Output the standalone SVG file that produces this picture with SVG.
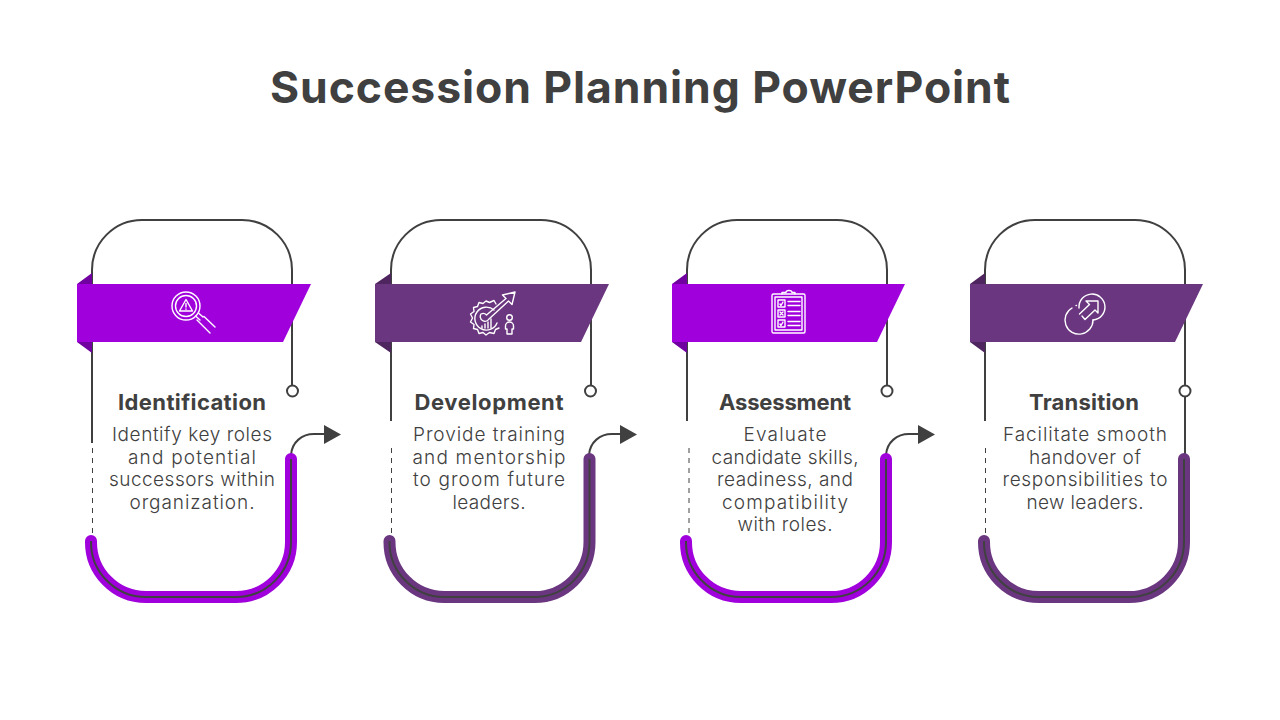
<svg xmlns="http://www.w3.org/2000/svg" xmlns:xlink="http://www.w3.org/1999/xlink" width="1280" height="720" viewBox="0 0 1280 720">
<style>
text{font-family:Inter,"Liberation Sans",sans-serif;fill:#404040;text-anchor:middle}
.title{font-size:44.500px;font-weight:700}
.head{font-size:22px;font-weight:700}
.body{font-size:19px;font-weight:300}
.ln{fill:none;stroke:#404040;stroke-width:2}
.dash{fill:none;stroke:#404040;stroke-width:1;stroke-dasharray:5 5}
.thick{fill:none;stroke-width:12;stroke-linecap:round}
.ic{fill:none;stroke:#fff;stroke-width:1.400;stroke-linecap:round;stroke-linejoin:round}
.v{fill:#A000DC}.vd{fill:#7000A0}.vs{stroke:#A000DC}
.p{fill:#6A367F}.pd{fill:#4F2560}.ps{stroke:#6A367F}
.dot{fill:#fff;stroke:#404040;stroke-width:2}
</style>
<defs>
<path id="top" d="M92 284V270A50 50 0 0 1 142 220H242A50 50 0 0 1 292 270V385"/>
<path id="u" d="M91 541A55 55 0 0 0 146 597H236A55 55 0 0 0 291 542V459"/>
</defs>
<text class="title" x="640" y="103" textLength="740" lengthAdjust="spacing">Succession Planning PowerPoint</text>

<g id="connectors">
<g id="link1"><path class="ln" d="M291 455C292 442 302 434 314 434H326"/><path fill="#404040" d="M324 425L341 434.500L324 444Z"/></g>
<g id="link2"><path class="ln" d="M589 455C590 442 600 434 612 434H622"/><path fill="#404040" d="M620 425L637 434.500L620 444Z"/></g>
<g id="link3"><path class="ln" d="M886 455C887 442 897 434 909 434H920"/><path fill="#404040" d="M918 425L935 434.500L918 444Z"/></g>
</g>

<g id="node1">
<use xlink:href="#top" class="ln"/>
<circle class="dot" cx="292.500" cy="391" r="5.500"/>
<path class="ln" d="M92 342V443"/>
<path class="dash" d="M92.500 448V535"/>
<use xlink:href="#u" class="thick vs"/><use xlink:href="#u" class="ln"/>
<path class="vd" d="M77 284L92 273V284ZM77 342L92 353V342Z"/>
<path class="v" d="M77 284H311L283 342H77Z"/>
<g class="ic">
<circle cx="186" cy="306" r="14"/><circle cx="186" cy="306" r="10.500"/>
<path d="M186 299.500L192.500 311H179.500ZM186 303.500V307M186 309V309.300"/>
<path d="M195.500 316L200 320M199 313.500L203 317M197 320L210 333M204 316.500L215 327"/>
</g>
<text class="head" x="192" y="410" textLength="148" lengthAdjust="spacing">Identification</text>
<g class="body">
<text x="192" y="441" textLength="160" lengthAdjust="spacing">Identify key roles</text>
<text x="192" y="464" textLength="128" lengthAdjust="spacing">and potential</text>
<text x="192" y="486" textLength="166" lengthAdjust="spacing">successors within</text>
<text x="192" y="509" textLength="125" lengthAdjust="spacing">organization.</text>
</g>
</g>

<g id="node2">
<use xlink:href="#top" class="ln" transform="translate(299 0)"/>
<circle class="dot" cx="590.500" cy="391" r="5.500"/>
<path class="ln" d="M391 342V421"/>
<path class="dash" d="M391.500 448V535"/>
<g transform="translate(298.500 0)"><use xlink:href="#u" class="thick ps"/><use xlink:href="#u" class="ln"/></g>
<path class="pd" d="M375 284L391 273V284ZM375 342L391 353V342Z"/>
<path class="p" d="M375 284H609L581 342H375Z"/>
<g class="ic">
<path d="M496 304L494 300.500L489.500 302.500L486 301L483 303.500L479 302.500L477.500 306.500L473.500 307.500L474 311.500L470.500 314L472.500 318L470.500 322L474 324.500L473.500 328.500L477.500 329.500L479 333.500L483 332.500L486 335L489.500 332.500L494 333.500L495.500 329.500L499 328"/>
<path d="M494 310A11.500 11.500 0 1 0 497 323"/>
<path d="M481 314A4.500 4.500 0 1 0 489 319L508.500 301L512 304.500L515 292L502.500 295L506 298.500L486.500 315A4.500 4.500 0 0 0 481 314Z"/>
<path d="M482 328V326M485 328V324M488 328V322M491 328V319"/>
<circle cx="509.500" cy="317.500" r="2.800"/><path d="M505.500 326A4 4 0 0 1 513.500 326V329H512V334H507V329H505.500Z"/>
</g>
<text class="head" x="489" y="410" textLength="149" lengthAdjust="spacing">Development</text>
<g class="body">
<text x="489" y="441" textLength="152" lengthAdjust="spacing">Provide training</text>
<text x="489" y="464" textLength="153" lengthAdjust="spacing">and mentorship</text>
<text x="489" y="486" textLength="152" lengthAdjust="spacing">to groom future</text>
<text x="489" y="509" textLength="73" lengthAdjust="spacing">leaders.</text>
</g>
</g>

<g id="node3">
<use xlink:href="#top" class="ln" transform="translate(595 0)"/>
<circle class="dot" cx="887" cy="391" r="5.500"/>
<path class="ln" d="M687 342V421"/>
<path class="dash" d="M689 448V535"/>
<g transform="translate(595 0)"><use xlink:href="#u" class="thick vs"/><use xlink:href="#u" class="ln"/></g>
<path class="vd" d="M672 284L687 273V284ZM672 342L687 353V342Z"/>
<path class="v" d="M672 284H905L877 342H672Z"/>
<g class="ic">
<rect x="772" y="294" width="33" height="39" rx="1.500"/><rect x="775" y="297" width="27" height="33"/>
<path d="M782 294V292.500H786A3 2 0 0 1 792 292.500H795V294"/>
<rect x="778" y="300" width="7" height="7"/><rect x="778" y="310" width="7" height="7"/><rect x="778" y="320" width="7" height="7"/>
<path d="M780 304L781 305.500L783 302M780 312L783 315M783 312L780 315M780 324L781 325.500L783 322"/>
<path d="M788 301.500H800M788 305.500H800M788 311.500H800M788 315.500H800M788 321.500H800M788 325.500H800"/>
</g>
<text class="head" x="785" y="410" textLength="132" lengthAdjust="spacing">Assessment</text>
<g class="body">
<text x="785" y="441" textLength="83" lengthAdjust="spacing">Evaluate</text>
<text x="785" y="464" textLength="147" lengthAdjust="spacing">candidate skills,</text>
<text x="785" y="486" textLength="136" lengthAdjust="spacing">readiness, and</text>
<text x="785" y="509" textLength="126" lengthAdjust="spacing">compatibility</text>
<text x="785" y="531" textLength="95" lengthAdjust="spacing">with roles.</text>
</g>
</g>

<g id="node4">
<use xlink:href="#top" class="ln" transform="translate(893 0)"/>
<path class="ln" d="M1185 396V460"/>
<circle class="dot" cx="1185" cy="391" r="5.500"/>
<path class="ln" d="M985 342V421"/>
<path class="dash" d="M985.500 448V535"/>
<g transform="translate(893 0)"><use xlink:href="#u" class="thick ps"/><use xlink:href="#u" class="ln"/></g>
<path class="pd" d="M970 284L985 273V284ZM970 342L985 353V342Z"/>
<path class="p" d="M970 284H1203L1175 342H970Z"/>
<g class="ic">
<path d="M1072 308A14 14 0 1 0 1093 320"/>
<path d="M1079 308A13 13 0 1 1 1093 320"/>
<path d="M1082 316L1085 319.500L1095 310L1098 313V301H1086L1089.500 304.500L1079.500 314"/>
<path d="M1076 305.500H1076.500"/>
</g>
<text class="head" x="1084" y="410" textLength="110" lengthAdjust="spacing">Transition</text>
<g class="body">
<text x="1085" y="441" textLength="164" lengthAdjust="spacing">Facilitate smooth</text>
<text x="1085" y="464" textLength="112" lengthAdjust="spacing">handover of</text>
<text x="1085" y="486" textLength="165" lengthAdjust="spacing">responsibilities to</text>
<text x="1085" y="509" textLength="117" lengthAdjust="spacing">new leaders.</text>
</g>
</g>
</svg>
